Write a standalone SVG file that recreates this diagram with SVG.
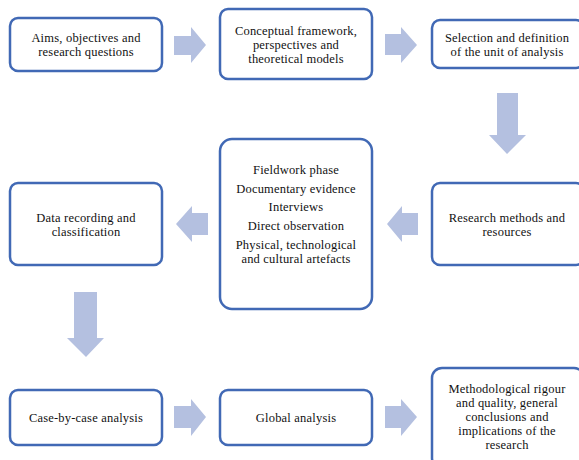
<svg xmlns="http://www.w3.org/2000/svg" width="579" height="460" viewBox="0 0 579 460">
<style>
.box{fill:#fff;stroke:#4169b5;stroke-width:2.5}
.arr{fill:#b4c0e0}
text{font-family:"Liberation Serif","Times New Roman",serif;font-size:12.5px;letter-spacing:0.2px;fill:#111;text-anchor:middle}
</style>
<rect width="579" height="460" fill="#fff"/>
<g id="connectors">
<polygon class="arr" points="174,36 191,36 191,27 206,45 191,63 191,55 174,55"/>
<polygon class="arr" points="385,34 401,34 401,27 417,45 401,63 401,55 385,55"/>
<polygon class="arr" points="497,93 518,93 518,135 526,135 507,154 489,135 497,135"/>
<polygon class="arr" points="418,213 402,213 402,206 387,224 402,242 402,235 418,235"/>
<polygon class="arr" points="208,213 192,213 192,206 176,224 192,242 192,235 208,235"/>
<polygon class="arr" points="74,292 97,292 97,338 104,338 86,357 67,338 74,338"/>
<polygon class="arr" points="174,406 191,406 191,399 206,417 191,436 191,428 174,428"/>
<polygon class="arr" points="385,406 401,406 401,399 417,417 401,436 401,428 385,428"/>
</g>
<g id="n1"><rect class="box" x="10" y="18" width="152" height="53" rx="8"/><text x="86" y="42">Aims, objectives and</text><text x="86" y="56">research questions</text></g>
<g id="n2"><rect class="box" x="220" y="9" width="152" height="70" rx="8"/><text x="296" y="35">Conceptual framework,</text><text x="296" y="49">perspectives and</text><text x="296" y="63">theoretical models</text></g>
<g id="n3"><rect class="box" x="432" y="20" width="152" height="48" rx="8"/><text x="507" y="42">Selection and definition</text><text x="507" y="56">of the unit of analysis</text></g>
<g id="n4"><rect class="box" x="432" y="183" width="152" height="82" rx="8"/><text x="507" y="222">Research methods and</text><text x="507" y="236">resources</text></g>
<g id="n5"><rect class="box" x="220" y="139" width="152" height="170" rx="12"/><text x="296" y="174">Fieldwork phase</text><text x="296" y="193">Documentary evidence</text><text x="296" y="211">Interviews</text><text x="296" y="230">Direct observation</text><text x="296" y="249">Physical, technological</text><text x="296" y="263">and cultural artefacts</text></g>
<g id="n6"><rect class="box" x="10" y="183" width="152" height="82" rx="8"/><text x="86" y="222">Data recording and</text><text x="86" y="236">classification</text></g>
<g id="n7"><rect class="box" x="10" y="390" width="152" height="55" rx="8"/><text x="86" y="422">Case-by-case analysis</text></g>
<g id="n8"><rect class="box" x="220" y="390" width="152" height="55" rx="8"/><text x="296" y="422">Global analysis</text></g>
<g id="n9"><rect class="box" x="432" y="368" width="152" height="100" rx="10"/><text x="507" y="393">Methodological rigour</text><text x="507" y="407">and quality, general</text><text x="507" y="421">conclusions and</text><text x="507" y="435">implications of the</text><text x="507" y="449">research</text></g>
</svg>
